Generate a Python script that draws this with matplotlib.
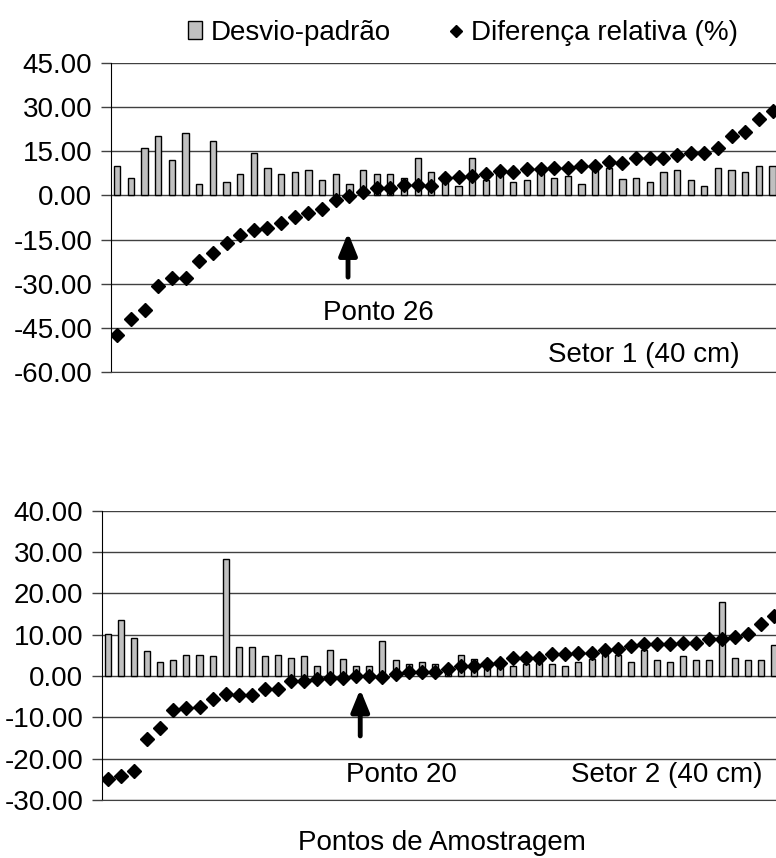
import matplotlib.pyplot as plt
import numpy as np
from matplotlib.patches import Patch
from matplotlib.lines import Line2D

plt.rcParams['font.family'] = ['Liberation Sans', 'DejaVu Sans']

# Setor 1 (top panel)
desvio_s1 = [9.9, 6.0, 16.3, 20.3, 12.0, 21.1, 4.0, 18.4, 4.7, 7.3,
             14.5, 9.4, 7.3, 8.1, 8.7, 5.4, 7.2, 4.0, 8.7, 7.2,
             7.2, 5.9, 12.6, 8.0, 7.2, 3.2, 12.6, 5.1, 9.2, 4.7,
             5.4, 9.2, 6.0, 6.6, 4.0, 9.2, 9.2, 5.6, 6.0, 4.7,
             8.0, 8.7, 5.3, 3.2, 9.2, 8.7, 8.0, 9.9, 9.9]
difrel_s1 = [-47.6, -42.2, -39.0, -30.8, -28.2, -28.2, -22.3, -19.6, -16.2, -13.6,
             -11.6, -11.1, -9.4, -7.4, -5.9, -4.6, -1.6, -0.2, 1.3, 2.4,
             2.6, 3.4, 3.4, 3.3, 5.8, 6.3, 6.6, 7.2, 8.3, 8.0,
             8.9, 8.9, 9.2, 9.5, 10.0, 10.0, 11.4, 11.2, 12.7, 12.6,
             12.6, 13.8, 14.6, 14.5, 16.3, 20.3, 21.7, 26.0, 28.7]

# Setor 2 (bottom panel)
desvio_s2 = [10.2, 13.6, 9.3, 6.1, 3.4, 3.8, 5.2, 5.2, 4.8, 28.2,
             7.1, 7.1, 4.8, 5.2, 4.3, 4.8, 2.4, 6.2, 4.2, 2.4,
             2.4, 8.5, 3.9, 2.8, 3.4, 3.0, 2.2, 5.2, 4.2, 2.8,
             3.0, 2.4, 3.0, 3.2, 3.0, 2.4, 3.4, 4.2, 5.2, 5.2,
             3.4, 6.2, 3.9, 3.4, 4.8, 3.9, 3.9, 17.8, 4.3, 3.9,
             3.9, 7.5]
difrel_s2 = [-24.9, -24.1, -23.0, -15.2, -12.5, -8.2, -7.8, -7.4, -5.5, -4.4,
             -4.6, -4.6, -3.1, -3.2, -1.2, -1.2, -0.8, -0.4, -0.6, 0.0,
             0.0, -0.2, 0.6, 1.0, 1.0, 1.0, 1.6, 2.4, 2.4, 3.0,
             3.1, 4.4, 4.3, 4.3, 5.4, 5.4, 5.6, 5.6, 6.3, 6.6,
             7.3, 7.8, 7.7, 7.7, 8.1, 7.9, 8.9, 8.9, 9.5, 10.2,
             12.5, 14.5]

fig = plt.figure(figsize=(7.76, 8.58), dpi=100)
W, H = 776, 858
FS = 20


def panel(rect_px, desvio, difrel, ylim, step, ponto_txt, ponto_xy, setor_txt, setor_xy, arrow):
    x0, y0, x1, y1 = rect_px
    ax = fig.add_axes([x0 / W, 1 - y1 / H, (x1 - x0) / W, (y1 - y0) / H])
    x = np.arange(len(desvio))
    ax.bar(x, desvio, width=0.46, color='#C0C0C0', edgecolor='black', linewidth=1, zorder=2)
    ax.plot(x, difrel, linestyle='none', marker='D', markersize=7.5, color='black', zorder=3)
    ax.set_xlim(-0.5, len(desvio) - 0.5)
    ax.set_ylim(*ylim)
    ax.set_yticks(np.arange(ylim[0], ylim[1] + 0.1, step))
    ax.yaxis.set_major_formatter(plt.FormatStrFormatter('%.2f'))
    ax.set_xticks([])
    ax.tick_params(axis='y', labelsize=FS, length=7, width=1, pad=6, color='#404040')
    ax.yaxis.grid(True, color='#404040', linewidth=1)
    ax.set_axisbelow(True)
    for s in ['top', 'right']:
        ax.spines[s].set_visible(False)
    ax.spines['left'].set_color('black')
    ax.spines['bottom'].set_color('#404040')
    ax.annotate('', xy=(arrow[0], arrow[1]), xytext=(arrow[0], arrow[2]),
                arrowprops=dict(arrowstyle='-|>,head_width=0.45,head_length=1.1',
                                lw=3.5, color='black', mutation_scale=12,
                                shrinkA=0, shrinkB=0))
    ax.text(*ponto_xy, ponto_txt, transform=ax.transAxes, fontsize=FS,
            ha='center', va='center')
    ax.text(*setor_xy, setor_txt, transform=ax.transAxes, fontsize=FS,
            ha='center', va='center')
    return ax


panel((110.5, 63.3, 779.4, 371.7), desvio_s1, difrel_s1, (-60, 45), 15,
      'Ponto 26', (0.40, 0.19), 'Setor 1 (40 cm)', (0.797, 0.054), (16.9, -12.7, -27.8))
panel((101.5, 510.7, 781, 800), desvio_s2, difrel_s2, (-30, 40), 10,
      'Ponto 20', (0.442, 0.086), 'Setor 2 (40 cm)', (0.832, 0.086), (19.3, -3.2, -14.5))

handles = [Patch(facecolor='#C0C0C0', edgecolor='black', linewidth=1),
           Line2D([], [], linestyle='none', marker='D', markersize=6, color='black')]
fig.legend(handles, ['Desvio-padrão', 'Diferença relativa (%)'], loc='center',
           bbox_to_anchor=(0.597, 0.9615), ncol=2, frameon=False, fontsize=FS,
           handlelength=0.5, handleheight=0.6, handletextpad=0.3, columnspacing=2.1)

fig.text(0.569, 0.018, 'Pontos de Amostragem', fontsize=FS, ha='center', va='center')

fig.savefig('out.png', dpi=100)
